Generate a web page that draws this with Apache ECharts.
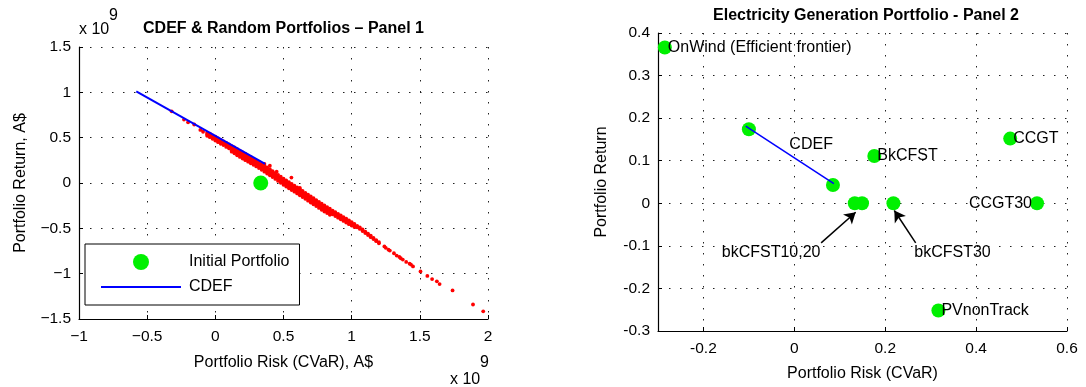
<!DOCTYPE html>
<html><head><meta charset="utf-8">
<script src="https://cdn.jsdelivr.net/npm/echarts@6/dist/echarts.min.js"></script>
<style>html,body{margin:0;padding:0;background:#fff}#c{width:1086px;height:387px}</style>
</head><body><div id="c"></div><script>
// ---------- Panel 1 data (units of 10^9 A$) ----------
// dense band of random portfolios: each row = [risk, return values read at that risk]
const randomBandRows = [
[-0.06,0.555,0.538,0.52],[-0.04,0.545,0.525,0.505],[-0.02,0.525,0.507,0.487],[0.00,0.51,0.49,0.468],
[0.02,0.492,0.471,0.45],[0.04,0.476,0.455,0.433],[0.06,0.46,0.441,0.418],[0.08,0.442,0.42,0.398],
[0.10,0.426,0.405,0.383],[0.12,0.407,0.386,0.362,0.345],[0.14,0.392,0.37,0.348,0.327],
[0.16,0.372,0.35,0.328,0.305],[0.18,0.355,0.333,0.311,0.288],[0.20,0.337,0.315,0.293,0.27],
[0.22,0.32,0.298,0.276,0.252],[0.24,0.302,0.28,0.258,0.235],[0.26,0.285,0.263,0.241,0.218],
[0.28,0.267,0.245,0.223,0.2],[0.30,0.25,0.228,0.206,0.183],[0.32,0.232,0.21,0.188,0.165],
[0.34,0.212,0.19,0.168,0.145],[0.36,0.192,0.17,0.148,0.125],[0.38,0.172,0.15,0.128,0.105],
[0.40,0.152,0.13,0.108,0.085],[0.42,0.132,0.11,0.088,0.065],[0.44,0.112,0.09,0.068,0.045],
[0.46,0.09,0.068,0.046,0.023],[0.48,0.069,0.047,0.025,0.002],[0.50,0.047,0.025,0.003,-0.02],
[0.52,0.028,0.006,-0.016,-0.039],[0.54,0.009,-0.013,-0.035,-0.058],[0.56,-0.01,-0.032,-0.054,-0.077],
[0.58,-0.029,-0.051,-0.073,-0.096],[0.60,-0.048,-0.07,-0.092,-0.115],[0.62,-0.068,-0.09,-0.112,-0.135],
[0.64,-0.088,-0.11,-0.132,-0.155],[0.66,-0.108,-0.13,-0.152,-0.175],[0.68,-0.128,-0.15,-0.172,-0.195],
[0.70,-0.148,-0.17,-0.192,-0.215],[0.72,-0.168,-0.19,-0.212,-0.235],[0.74,-0.188,-0.21,-0.232,-0.255],
[0.76,-0.208,-0.23,-0.252,-0.275],[0.78,-0.228,-0.25,-0.272,-0.295],[0.80,-0.248,-0.27,-0.292,-0.315],
[0.82,-0.266,-0.288,-0.31,-0.332],[0.84,-0.284,-0.306,-0.328,-0.35],[0.86,-0.304,-0.324,-0.346],
[0.88,-0.322,-0.342,-0.364],[0.90,-0.34,-0.36,-0.382],[0.92,-0.358,-0.378,-0.4],
[0.94,-0.376,-0.396,-0.418],[0.96,-0.394,-0.414,-0.436],[0.98,-0.412,-0.432,-0.454],
[1.00,-0.432,-0.45,-0.47],[1.02,-0.452,-0.468,-0.486],[1.04,-0.472,-0.488],[1.06,-0.49,-0.507],
[1.08,-0.512,-0.53],[1.10,-0.536,-0.552],[1.12,-0.56,-0.574],[1.14,-0.582,-0.597],
[1.16,-0.606,-0.618],[1.18,-0.63,-0.642],[1.20,-0.652,-0.665]
];
// sparse random portfolios (upper end, outliers, lower tail)
const randomSparse = [
[-0.32,0.79],[-0.23,0.70],[-0.20,0.67],[-0.155,0.645],[-0.11,0.585],[-0.09,0.565],
[0.40,0.19],[0.558,0.06],[0.36,0.21],[0.45,0.125],[0.62,-0.055],
[1.24,-0.70],[1.25,-0.715],[1.27,-0.735],[1.28,-0.745],[1.31,-0.775],[1.33,-0.80],[1.35,-0.815],
[1.36,-0.83],[1.375,-0.845],[1.40,-0.87],[1.425,-0.89],[1.435,-0.90],[1.45,-0.92],[1.505,-0.975],
[1.555,-1.025],[1.59,-1.06],[1.625,-1.085],[1.645,-1.115],[1.74,-1.185],[1.89,-1.34],[1.965,-1.415]
];
const cdefFrontier1 = [[-0.58,1.01],[0.365,0.21]];
const initialPortfolio = [[0.333,0]];

// ---------- Panel 2 data ----------
const techNames  = ['OnWind (Efficient frontier)','CDEF start','CDEF end','BkCFST','CCGT','bkCFST10','bkCFST20','bkCFST30','CCGT30','PVnonTrack'];
const techRisk   = [-0.285,-0.100,0.085,0.176,0.475,0.133,0.149,0.218,0.534,0.317];
const techReturn = [0.366,0.174,0.043,0.111,0.152,0,0,0,0,-0.252];
const techLabel  = ['OnWind (Efficient frontier)','','','BkCFST','CCGT','','','','CCGT30','PVnonTrack'];
const cdefFrontier2 = [[-0.107,0.181],[0.087,0.046]];
const annoText = ['CDEF','bkCFST10,20','bkCFST30'];
const annoPos  = [[0.037,0.139],[-0.051,-0.116],[0.348,-0.116]];
const arrows = [[[0.059,-0.093],[0.135,-0.021]],[[0.267,-0.093],[0.220,-0.017]]];
const p2XTicks = [-0.2,0,0.2,0.4,0.6];

// table built from the rows above
const randomPortfolios = [];
randomBandRows.forEach(r => { for (let k = 1; k < r.length; k++) randomPortfolios.push([r[0], r[k]]); });
randomSparse.forEach(p => randomPortfolios.push(p));

const FONT = 'Liberation Sans';
const FS = 16, TFS = 15.5;
const minus = v => (v < 0 ? '\u2212' : '') + Math.abs(v);
const dec1 = v => (Math.abs(v) < 1e-9 ? '0' : v.toFixed(1));
const gridDots = {show:true, lineStyle:{color:'#222', width:1, type:[1.5,9.5]}};
function axisBase(extra){
  return Object.assign({
    type:'value',
    axisLine:{show:true, onZero:false, lineStyle:{color:'#000', width:1.2}},
    axisTick:{show:true, inside:true, length:4, lineStyle:{color:'#000'}},
    splitLine:gridDots,
    nameTextStyle:{color:'#000', fontSize:FS, fontFamily:FONT},
    nameLocation:'middle'
  }, extra);
}
const lbl = (o) => Object.assign({color:'#000', fontSize:TFS, fontFamily:FONT}, o);
const noBorder = {textBorderWidth:0, textBorderColor:'transparent', textShadowBlur:0};

const chart = echarts.init(document.getElementById('c'), null, {renderer:'canvas'});
chart.setOption({
  animation:false,
  backgroundColor:'#fff',
  textStyle:{fontFamily:FONT},
  title:[
    {text:'CDEF & Random Portfolios \u2013 Panel 1', left:283.5, top:21, textAlign:'center', padding:0,
     textStyle:{fontSize:16, fontWeight:'bold', color:'#000', fontFamily:FONT}},
    {text:'Electricity Generation Portfolio - Panel 2', left:866, top:8, textAlign:'center', padding:0,
     textStyle:{fontSize:16, fontWeight:'bold', color:'#000', fontFamily:FONT}}
  ],
  grid:[
    {left:79, right:598, top:47, bottom:68},
    {left:658, right:19, top:33, bottom:54}
  ],
  xAxis:[
    axisBase({gridIndex:0, min:-1, max:2, interval:0.5, name:'Portfolio Risk (CVaR), A$', nameGap:36,
      axisLabel:lbl({margin:10, formatter:minus})}),
    axisBase({gridIndex:1, min:-0.3, max:0.6, name:'Portfolio Risk (CVaR)', nameGap:35,
      axisTick:{show:true, inside:true, length:4, lineStyle:{color:'#000'}, customValues:p2XTicks},
      axisLabel:lbl({margin:10, formatter:dec1, customValues:p2XTicks})})
  ],
  yAxis:[
    axisBase({gridIndex:0, min:-1.5, max:1.5, interval:0.5, name:'Portfolio Return, A$', nameGap:50,
      axisLabel:lbl({margin:8, formatter:minus})}),
    axisBase({gridIndex:1, min:-0.3, max:0.4, interval:0.1, name:'Portfolio Return', nameGap:48,
      axisLabel:lbl({margin:8, formatter:dec1})})
  ],
  legend:{
    left:85, top:244, orient:'vertical', itemWidth:80, itemHeight:16, itemGap:9,
    padding:[10,10,10,16], borderColor:'#000', borderWidth:1, backgroundColor:'#fff',
    textStyle:{fontSize:FS, color:'#000', fontFamily:FONT, padding:[0,0,0,3]},
    data:[{name:'Initial Portfolio', icon:'circle'},
          {name:'CDEF', icon:'path://M0,0 L80,0 L80,2 L0,2 Z'}]
  },
  graphic:[
    {type:'text', left:79, top:22, style:{text:'x 10', fontSize:FS, fontFamily:FONT, fill:'#000'}},
    {type:'text', left:109, top:8, style:{text:'9', fontSize:FS, fontFamily:FONT, fill:'#000'}},
    {type:'text', left:450, top:372, style:{text:'x 10', fontSize:FS, fontFamily:FONT, fill:'#000'}},
    {type:'text', left:480, top:355, style:{text:'9', fontSize:FS, fontFamily:FONT, fill:'#000'}}
  ],
  series:[
    {name:'Random Portfolios', type:'scatter', xAxisIndex:0, yAxisIndex:0, data:randomPortfolios,
     symbolSize:3.8, itemStyle:{color:'#ff0000', opacity:1}, z:2},
    {name:'CDEF', type:'line', xAxisIndex:0, yAxisIndex:0, data:cdefFrontier1, symbol:'none',
     lineStyle:{color:'#0000ff', width:2}, itemStyle:{color:'#0000ff'}, z:3},
    {name:'Initial Portfolio', type:'scatter', xAxisIndex:0, yAxisIndex:0, data:initialPortfolio,
     symbolSize:15, itemStyle:{color:'#00f000', opacity:1}, z:4},
    {name:'Technologies', type:'scatter', xAxisIndex:1, yAxisIndex:1, symbolSize:14,
     itemStyle:{color:'#00f000', opacity:1}, z:3,
     data:techNames.map((n,i)=>({name:n, value:[techRisk[i], techReturn[i]],
       label:Object.assign({show:techLabel[i] !== '', formatter:techLabel[i], position:'inside',
         align: techLabel[i]==='CCGT30' ? 'right' : 'left', verticalAlign:'middle',
         offset: techLabel[i]==='CCGT30' ? [-5,0] : [3,0],
         color:'#000', fontSize:FS, fontFamily:FONT}, noBorder)}))},
    {name:'CDEF frontier', type:'line', xAxisIndex:1, yAxisIndex:1, data:cdefFrontier2, symbol:'none',
     lineStyle:{color:'#0000ff', width:1.5}, z:5},
    {name:'Annotations', type:'scatter', xAxisIndex:1, yAxisIndex:1, symbolSize:2, z:6,
     itemStyle:{color:'rgba(0,0,0,0)', opacity:1},
     data:annoText.map((t,i)=>({name:t, value:annoPos[i]})),
     label:Object.assign({show:true, position:'inside', formatter:'{b}', color:'#000', opacity:1,
       fontSize:FS, fontFamily:FONT}, noBorder),
     markLine:{silent:true, symbol:['none','arrow'], symbolSize:[10,11], animation:false,
       lineStyle:{color:'#000', width:1.5, type:'solid'}, label:{show:false},
       data:arrows.map(a=>[{coord:a[0]},{coord:a[1]}])}}
  ]
});
</script></body></html>
